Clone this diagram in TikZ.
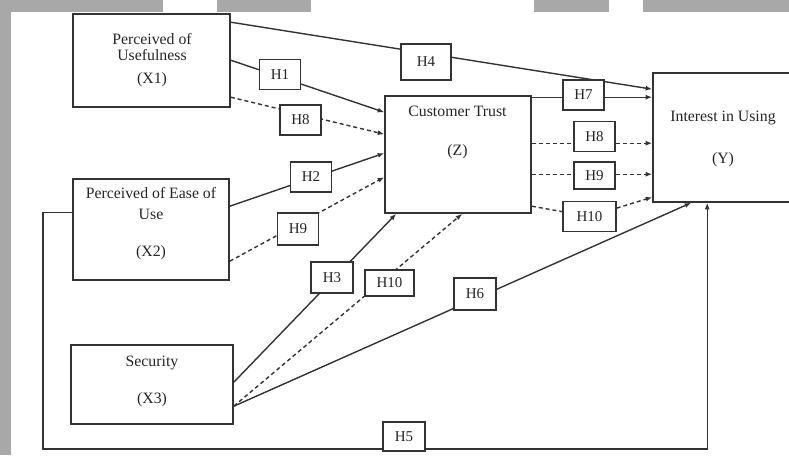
\documentclass[tikz,border=0pt]{standalone}
\usepackage{fontspec}
\setmainfont{Liberation Serif}
\usetikzlibrary{arrows.meta}
\begin{document}
\begin{tikzpicture}[x=1pt,y=-1pt,
  box/.style={draw=black!80, line width=1.6pt, rectangle, inner sep=0pt},
  lbl/.style={draw=black!80, line width=1.4pt, fill=white, inner sep=0pt,
    minimum width=41pt, minimum height=30pt,
    font=\fontsize{15}{16}\selectfont, text=black!85},
  txt/.style={align=center, font=\fontsize{15.8}{16}\selectfont, text=black!85, inner sep=0pt},
  con/.style={draw=black!80, line width=1.4pt, -{Latex[length=6.5pt,width=5pt]}},
  dcon/.style={con, dash pattern=on 4pt off 3pt},
  strip/.style={fill=black!34, draw=none}
]
\useasboundingbox (0,0) rectangle (789,455);
\clip (0,0) rectangle (789,455);
\fill[white] (0,0) rectangle (789,455);
% grey page edges
\fill[strip] (0,0) rectangle (11,455);
\fill[strip] (0,0) rectangle (163,12);
\fill[strip] (217,0) rectangle (311,12);
\fill[strip] (534,0) rectangle (609,12);
\fill[strip] (643,0) rectangle (789,12);

% main boxes
\node[box, minimum width=157pt, minimum height=93pt]  (X1) at (151.5,60.5) {};
\node[box, minimum width=156pt, minimum height=101pt] (X2) at (151,229.5) {};
\node[box, minimum width=162pt, minimum height=79pt]  (X3) at (152,384.5) {};
\node[box, minimum width=146pt, minimum height=117pt] (Z)  at (458,154.5) {};
\node[box, minimum width=150pt, minimum height=129pt] (Y)  at (728,137.5) {};

% box texts
\node[txt] (X1t) at (152,60.5) {Perceived of\\Usefulness\\[7pt](X1)};
\node[txt] (X2t) at (151,224) {Perceived of Ease of\\[5pt]Use\\[21pt](X2)};
\node[txt] (X3t) at (152,381.5) {Security\\[21pt](X3)};
\node[txt] (Zt)  at (457.5,132.5) {Customer Trust\\[23pt](Z)};
\node[txt] (Yt)  at (723,139) {Interest in Using\\[26pt](Y)};

% straight connectors
\draw[con]  ([yshift=-9pt]X1.north east)  -- ([yshift=-17pt]Y.north west);
\draw[con]  ([yshift=-47pt]X1.north east) -- ([yshift=-17pt]Z.north west);
\draw[dcon] ([yshift=-84pt]X1.north east) -- ([yshift=-39pt]Z.north west);
\draw[con]  ([yshift=-28pt]X2.north east) -- ([yshift=-58pt]Z.north west);
\draw[dcon] ([yshift=-83pt]X2.north east) -- ([yshift=-82pt]Z.north west);
\draw[con]  ([yshift=-38pt]X3.north east) -- ([xshift=12pt]Z.south west);
\draw[dcon] ([yshift=-62pt]X3.north east) -- ([xshift=78pt]Z.south west);
\draw[con]  ([yshift=-62pt]X3.north east) -- ([xshift=39pt]Y.south west);
\coordinate (loop) at (43,449);
\draw[con]  ([yshift=-34pt]X2.north west) -| (loop) -| ([xshift=55pt]Y.south west);
\draw[con]  ([yshift=-2pt]Z.north east)   -- ([yshift=-25pt]Y.north west);
\draw[dcon] ([yshift=-48pt]Z.north east)  -- ([yshift=-71pt]Y.north west);
\draw[dcon] ([yshift=-79pt]Z.north east)  -- ([yshift=-102pt]Y.north west);

% hypothesis labels
\node[lbl] (H1) at (280,74.5) {H1};
\node[lbl] (H8a) at (300.5,120) {H8};
\node[lbl] (H2) at (311,177) {H2};
\node[lbl, minimum height=32pt] (H9a) at (298,229) {H9};
\node[lbl, minimum width=50pt, minimum height=36pt] (H4) at (426,62) {H4};
\node[lbl] (H7) at (583.5,95) {H7};
\node[lbl] (H8b) at (594.5,136.5) {H8};
\node[lbl, minimum height=27pt] (H9b) at (594.5,175.5) {H9};
\node[lbl, minimum width=53pt] (H10b) at (589.5,216.5) {H10};
\node[lbl, minimum width=42pt, minimum height=31pt] (H3) at (332,277.5) {H3};
\node[lbl, minimum width=49pt, minimum height=26pt] (H10a) at (389.5,283) {H10};
\node[lbl, minimum width=42pt, minimum height=32pt] (H6) at (475,294) {H6};
\node[lbl, minimum width=42pt, minimum height=29pt] (H5) at (404,436.5) {H5};

% bent connector through H10
\draw[dcon] ([yshift=-111pt]Z.north east) -- (H10b) -- ([yshift=-125pt]Y.north west);
\end{tikzpicture}
\end{document}
